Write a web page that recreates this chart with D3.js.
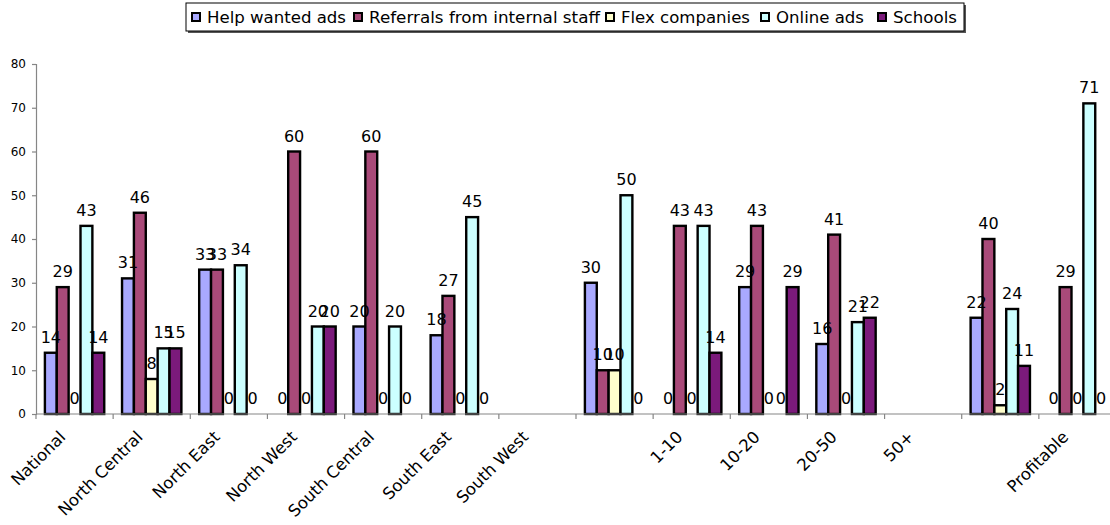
<!DOCTYPE html>
<html>
<head>
<meta charset="utf-8">
<script src="https://cdn.jsdelivr.net/npm/d3@7/dist/d3.min.js"></script>
<style>
  html, body { margin: 0; padding: 0; background: #fff; }
  svg { display: block; font-family: "DejaVu Sans", Verdana, sans-serif; }
</style>
</head>
<body>
<svg id="chart" width="1110" height="525"></svg>
<script>
// Recruiting sources by region, company size and profitability (percent of respondents)
const categories = ["National", "North Central", "North East", "North West", "South Central",
  "South East", "South West", "", "1-10", "10-20", "20-50", "50+", "", "Profitable"];

const seriesNames = ["Help wanted ads", "Referrals from internal staff", "Flex companies", "Online ads", "Schools"];

const helpWanted   = [14, 31, 33,  0, 20, 18, null, 30,  0, 29, 16, null, 22,  0];
const referrals    = [29, 46, 33, 60, 60, 27, null, 10, 43, 43, 41, null, 40, 29];
const flex         = [ 0,  8,  0,  0,  0,  0, null, 10,  0,  0,  0, null,  2,  0];
const onlineAds    = [43, 15, 34, 20, 20, 45, null, 50, 43,  0, 21, null, 24, 71];
const schools      = [14, 15,  0, 20,  0,  0, null,  0, 14, 29, 22, null, 11,  0];

const yTicks = [0, 10, 20, 30, 40, 50, 60, 70, 80];

const seriesValues = [helpWanted, referrals, flex, onlineAds, schools];
const colors = ["#a9a9ff", "#a94a79", "#ffffcc", "#ccffff", "#7b1a7b"];

const svg = d3.select("#chart");

const plot = { left: 36, right: 1116, top: 64, bottom: 414 };

const x0 = d3.scaleBand().domain(d3.range(categories.length))
  .range([plot.left, plot.right]).paddingInner(0).paddingOuter(0);
const x1 = d3.scaleBand().domain(d3.range(seriesNames.length))
  .range([0, x0.bandwidth()]).paddingInner(0).paddingOuter(0.75);
const y = d3.scaleLinear().domain([0, 80]).range([plot.bottom, plot.top]);

// One record per bar; empty categories have no bars
const bars = [];
categories.forEach((c, i) => {
  seriesValues.forEach((vals, s) => {
    if (vals[i] !== null) bars.push({ cat: i, s, v: vals[i] });
  });
});

// Y axis
const yAxis = d3.axisLeft(y).tickValues(yTicks).tickSize(4).tickPadding(6);
const gy = svg.append("g").attr("transform", `translate(${plot.left},0)`).call(yAxis);
gy.select(".domain").attr("stroke", "#868686").attr("stroke-width", 1.2);
gy.selectAll(".tick line").attr("stroke", "#868686").attr("stroke-width", 1.2);
gy.selectAll(".tick text").attr("font-size", "12px").attr("fill", "#000")
  .attr("font-family", "DejaVu Sans, sans-serif");

// Bars
svg.append("g").selectAll("rect").data(bars).join("rect")
  .attr("x", d => x0(d.cat) + x1(d.s))
  .attr("y", d => y(d.v))
  .attr("width", x1.bandwidth())
  .attr("height", d => y(0) - y(d.v))
  .attr("fill", d => colors[d.s])
  .attr("stroke", "#000")
  .attr("stroke-width", 2.4);

// X axis with ticks at category boundaries
const gx = svg.append("g").attr("transform", `translate(0,${plot.bottom})`);
gx.append("line").attr("x1", plot.left).attr("x2", plot.right)
  .attr("stroke", "#868686").attr("stroke-width", 1.2);
gx.selectAll("line.tk").data(d3.range(categories.length + 1)).join("line")
  .attr("class", "tk")
  .attr("x1", i => plot.left + i * x0.step()).attr("x2", i => plot.left + i * x0.step())
  .attr("y1", 0).attr("y2", 5)
  .attr("stroke", "#868686").attr("stroke-width", 1.2);

gx.selectAll("text").data(categories).join("text")
  .attr("transform", (c, i) => `translate(${x0(i) + x0.bandwidth() / 2 - 8},${24}) rotate(-45)`)
  .attr("text-anchor", "end")
  .attr("font-size", "16.5px")
  .attr("fill", "#000")
  .text(c => c);

// Value labels
svg.append("g").selectAll("text").data(bars).join("text")
  .attr("x", d => x0(d.cat) + x1(d.s) + x1.bandwidth() / 2)
  .attr("y", d => y(d.v) - 10)
  .attr("text-anchor", "middle")
  .attr("font-size", "16px")
  .attr("fill", "#000")
  .text(d => d.v);

// Legend
const legend = svg.append("g");
legend.append("rect").attr("x", 188).attr("y", 5).attr("width", 778).attr("height", 28)
  .attr("fill", "#555");
legend.append("rect").attr("x", 186).attr("y", 3).attr("width", 778).attr("height", 28)
  .attr("fill", "#fff").attr("stroke", "#000").attr("stroke-width", 1);
const legendX = [192, 354, 606, 761, 878];
const legendTextW = [139, 231, 129, 88, 64];
seriesNames.forEach((name, s) => {
  legend.append("rect").attr("x", legendX[s]).attr("y", 13).attr("width", 8).attr("height", 8)
    .attr("fill", colors[s]).attr("stroke", "#000").attr("stroke-width", 2);
  legend.append("text").attr("x", legendX[s] + 15).attr("y", 23)
    .attr("font-size", "16.4px").attr("fill", "#000")
    .attr("textLength", legendTextW[s]).attr("lengthAdjust", "spacingAndGlyphs")
    .text(name);
});
</script>
</body>
</html>
